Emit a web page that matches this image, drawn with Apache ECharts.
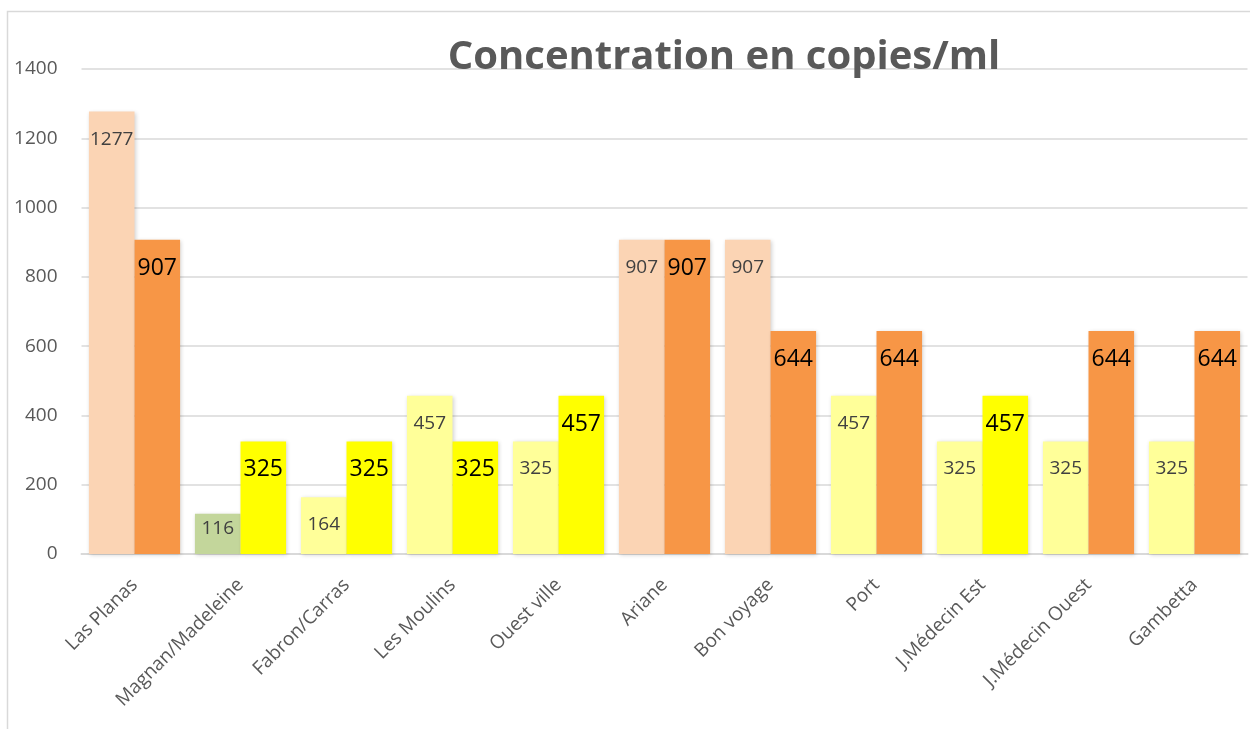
<!DOCTYPE html>
<html><head><meta charset="utf-8">
<script src="https://cdn.jsdelivr.net/npm/echarts@6/dist/echarts.min.js"></script>
<style>html,body{margin:0;padding:0;background:#fff}#c{width:1250px;height:729px}</style>
</head><body><div id="c"></div>
<script>
const categories = ['Las Planas','Magnan/Madeleine','Fabron/Carras','Les Moulins','Ouest ville','Ariane','Bon voyage','Port','J.Médecin Est','J.Médecin Ouest','Gambetta'];
const series1 = [1277,116,164,457,325,907,907,457,325,325,325];
const series2 = [907,325,325,325,457,907,644,644,457,644,644];
const colors1 = ['#FBD4B4','#C3D69B','#FFFF99','#FFFF99','#FFFF99','#FBD4B4','#FBD4B4','#FFFF99','#FFFF99','#FFFF99','#FFFF99'];
const colors2 = ['#F79646','#FFFF00','#FFFF00','#FFFF00','#FFFF00','#F79646','#F79646','#F79646','#FFFF00','#F79646','#F79646'];
const yTicks = [0,200,400,600,800,1000,1200,1400];

const font = "'Open Sans', 'Noto Sans', sans-serif";
const chart = echarts.init(document.getElementById('c'));
const shadow = {shadowColor:'rgba(0,0,0,0.18)', shadowBlur:4, shadowOffsetX:1, shadowOffsetY:1};
chart.setOption({
  animation:false,
  title:{text:'Concentration en copies/ml', left:719, top:33, textAlign:'center',
    textStyle:{fontFamily:font, fontSize:40, fontWeight:'bold', color:'#595959'}},
  graphic:[{type:'rect', shape:{x:7.5,y:11.5,width:1260,height:740}, style:{fill:'none', stroke:'#d9d9d9', lineWidth:1.5}, silent:true}],
  grid:{left:81.5, right:2.5, top:69, bottom:175, containLabel:false},
  xAxis:{type:'category', data:categories,
    axisLine:{lineStyle:{color:'#d9d9d9', width:2}},
    axisTick:{show:false},
    axisLabel:{rotate:45, fontFamily:font, fontSize:19, color:'#595959', margin:28, interval:0}},
  yAxis:{type:'value', min:0, max:yTicks[yTicks.length-1], interval:200,
    axisLine:{show:false}, axisTick:{show:false},
    splitLine:{lineStyle:{color:'#d9d9d9', width:1.5}},
    axisLabel:{fontFamily:font, fontSize:19, color:'#595959', margin:24, formatter:v=>String(v)}},
  series:[
    {type:'bar', barGap:'0%', barCategoryGap:'14%',
     data:series1.map((v,i)=>({value:v, itemStyle:{color:colors1[i], ...shadow},
       label: v===116 ? {distance:5} : undefined})),
     label:{show:true, position:'insideTop', distance:18, fontFamily:font, fontSize:19, color:'#404040'}},
    {type:'bar', barGap:'0%', barCategoryGap:'14%',
     data:series2.map((v,i)=>({value:v, itemStyle:{color:colors2[i], ...shadow}})),
     label:{show:true, position:'insideTop', distance:17, fontFamily:font, fontSize:23, color:'#000'}}
  ]
});
</script></body></html>
